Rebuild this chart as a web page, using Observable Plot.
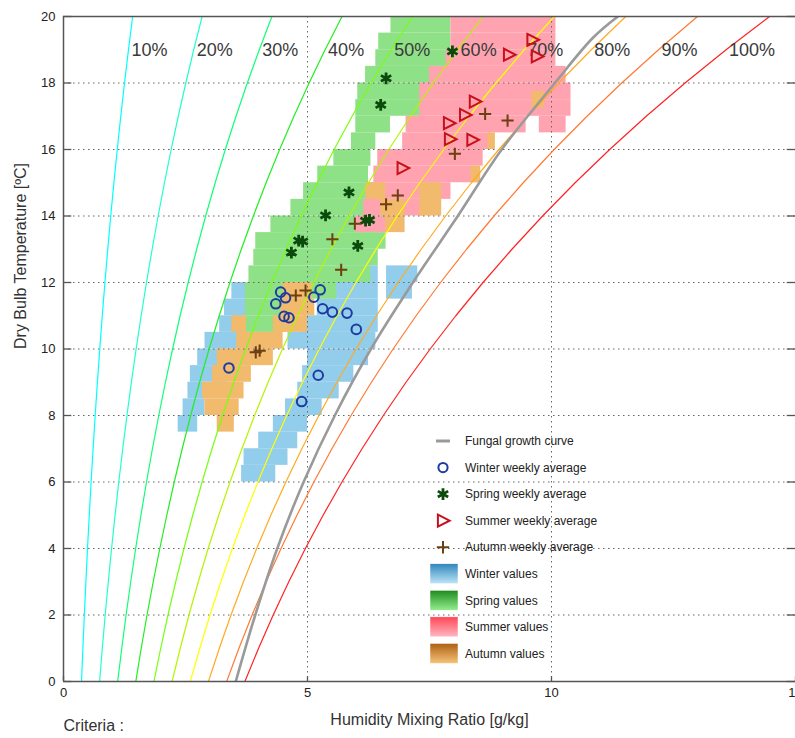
<!DOCTYPE html>
<html><head><meta charset="utf-8">
<script src="https://cdn.jsdelivr.net/npm/d3@7"></script>
<script src="https://cdn.jsdelivr.net/npm/@observablehq/plot@0.6"></script>
<style>
body{margin:0;background:#fff;overflow:hidden;font-family:"Liberation Sans",Arial,sans-serif;}
#wrap{position:relative;width:795px;height:738px;overflow:hidden;}
#wrap svg{max-width:none !important;}
#legend{position:absolute;left:0;top:0;pointer-events:none;}
</style></head><body><div id="wrap"></div>
<script>
// ---- data ----
const xTicks = [0, 5, 10, 15];
const yTicks = [0, 2, 4, 6, 8, 10, 12, 14, 16, 18, 20];
const rhLevels = [10, 20, 30, 40, 50, 60, 70, 80, 90, 100];
const rhColors = ["#00ffff", "#22ffcc", "#11ff77", "#22ee22", "#77ff11", "#b4f500", "#ffff00", "#ffaa22", "#ff7a33", "#ff2222"];
const tempsC = [0,1,2,3,4,5,6,7,8,9,10,11,12,13,14,15,16,17,18,19,20];
const satVapourKPa = [0.6113,0.6571,0.7060,0.7581,0.8135,0.8726,0.9354,1.0021,1.0730,1.1482,1.2282,1.3129,1.4028,1.4981,1.5989,1.7057,1.8188,1.9383,2.0647,2.1982,2.3392];
const pressureKPa = 102.9;
const labelTempC = 19;

const fungalCurve = [[3.53,0],[3.93,2],[4.38,4],[4.92,6],[5.56,8],[6.30,10],[7.16,12],[8.08,14],[8.98,16],[10.07,18],[10.85,19.36],[11.36,20]];

const winterAvg = [[4.45,11.71],[4.35,11.36],[4.55,11.54],[4.52,10.98],[4.62,10.94],[5.26,11.78],[5.13,11.56],[5.31,11.21],[5.51,11.11],[5.81,11.08],[6.0,10.59],[3.39,9.43],[5.22,9.21],[4.88,8.42]];
const springAvg = [[7.97,18.95],[6.61,18.14],[6.50,17.34],[5.85,14.71],[5.37,14.02],[6.19,13.86],[6.27,13.88],[6.03,13.10],[4.82,13.26],[4.90,13.23],[4.67,12.90]];
const summerAvg = [[9.61,19.30],[9.70,18.80],[9.13,18.85],[8.43,17.44],[8.23,17.04],[7.90,16.79],[7.92,16.31],[8.38,16.29],[6.95,15.44]];
const autumnAvg = [[8.64,17.07],[9.10,16.87],[8.02,15.87],[6.85,14.62],[6.61,14.35],[5.97,13.77],[5.51,13.30],[5.69,12.38],[4.76,11.61],[4.96,11.76],[3.94,9.90],[4.02,9.95]];

// value clouds: [temperature row centre, mixing ratio from, mixing ratio to]
const winterSpans = [[12.25,5.60,6.45],[12.25,6.62,7.26],[11.75,5.20,6.45],[11.75,6.62,7.15],[11.75,3.45,3.75],[11.25,5.20,6.45],[11.25,3.30,3.75],[10.75,4.90,6.45],[10.75,3.20,3.75],[10.25,4.60,6.40],[10.25,2.90,3.90],[9.75,5.00,6.25],[9.75,2.75,3.40],[9.25,4.90,5.95],[9.25,2.60,3.35],[8.75,4.80,5.65],[8.75,2.55,2.90],[8.25,4.55,5.30],[8.25,2.45,2.90],[7.75,4.30,5.00],[7.75,2.35,2.75],[7.25,4.00,4.80],[6.75,3.70,4.60],[6.25,3.65,4.35]];
const springSpans = [[19.75,6.71,7.94],[19.25,6.46,7.94],[18.75,6.40,7.90],[18.25,6.19,7.84],[17.75,6.03,7.59],[17.25,5.99,7.38],[16.75,5.99,6.70],[16.25,5.90,6.40],[15.75,5.54,6.30],[15.25,5.21,6.25],[14.75,4.92,6.25],[14.25,4.66,6.45],[13.75,4.25,6.64],[13.25,3.94,6.61],[12.75,3.90,6.45],[12.25,3.80,6.30],[11.75,3.73,5.60],[11.25,3.73,4.80],[10.75,3.73,4.55],[10.25,3.84,4.30]];
const summerSpans = [[19.75,7.94,10.09],[19.25,7.94,10.09],[18.75,7.84,10.09],[18.25,7.50,10.30],[17.75,7.30,10.40],[17.25,7.30,10.40],[16.75,7.02,9.48],[16.75,9.75,10.30],[16.25,6.95,8.76],[15.75,6.44,8.60],[15.25,6.36,8.49],[14.75,6.20,7.94],[14.25,6.15,7.40],[13.75,5.99,6.61]];
const autumnSpans = [[17.5,9.60,9.85],[16.25,8.70,8.85],[15.25,8.35,8.55],[14.75,7.30,7.75],[14.75,6.20,6.60],[14.25,7.30,7.75],[14.25,6.50,7.00],[13.75,6.60,7.00],[11.75,4.50,5.10],[11.25,4.45,5.15],[10.75,4.30,5.00],[10.75,3.45,3.75],[10.25,3.55,4.50],[9.75,3.15,4.30],[9.25,3.05,3.85],[8.75,2.85,3.70],[8.25,2.90,3.60],[7.75,3.15,3.50]];

const legendLabels = ["Fungal growth curve","Winter weekly average","Spring weekly average","Summer weekly average","Autumn weekly average","Winter values","Spring values","Summer values","Autumn values"];

// ---- derived tables ----
function mixingRatio(rh, e) { const pe = rh / 100 * e; return 622 * pe / (pressureKPa - pe); }
const rhRows = rhLevels.flatMap(rh => tempsC.map((t, i) => ({rh, t, w: mixingRatio(rh, satVapourKPa[i])})));
const labelIdx = tempsC.indexOf(labelTempC);
const rhLabelRows = rhLevels.map(rh => ({rh, t: labelTempC, w: mixingRatio(rh, satVapourKPa[labelIdx]), label: rh + "%"}));

const triRight = {draw(ctx, size) { const r = Math.sqrt(size / Math.PI); ctx.moveTo(-0.85 * r, -r); ctx.lineTo(1.1 * r, 0); ctx.lineTo(-0.85 * r, r); ctx.closePath(); }};

const span = (data, fill) => Plot.rect(data, {x1: d => d[1], x2: d => d[2], y1: d => d[0] - 0.25, y2: d => d[0] + 0.25, fill, clip: true});
const xy = {x: d => d[0], y: d => d[1]};
const font = "Liberation Sans, Arial, sans-serif";

const chart = Plot.plot({
  width: 810, height: 738,
  marginLeft: 63, marginRight: 15, marginTop: 16, marginBottom: 57,
  style: {fontFamily: font, fontSize: "13px", background: "white", maxWidth: "none"},
  x: {domain: [0, 15]},
  y: {domain: [0, 20]},
  marks: [
    span(winterSpans, "#93cdec"),
    span(springSpans, "#8ee186"),
    span(summerSpans, "#ffa3b0"),
    span(autumnSpans, "#f2ba6c"),
    Plot.gridY(yTicks.slice(1, -1), {stroke: "#666", strokeOpacity: 1, strokeDasharray: "1.5,3.5"}),
    Plot.gridX(xTicks.slice(1, -1), {stroke: "#666", strokeOpacity: 1, strokeDasharray: "1.5,3.5"}),
    ...rhLevels.map((rh, i) => Plot.line(rhRows.filter(d => d.rh === rh), {x: "w", y: "t", stroke: rhColors[i], strokeWidth: 1.2, clip: true})),
    Plot.line(fungalCurve, {...xy, stroke: "#9a9a9a", strokeWidth: 2.6, curve: "catmull-rom", clip: true}),
    Plot.text(rhLabelRows, {x: "w", y: "t", text: "label", textAnchor: "start", dx: 3, fontSize: 18, fill: "#3a3a3a"}),
    Plot.dot(winterAvg, {...xy, r: 4.8, stroke: "#1c3ca0", strokeWidth: 2, fill: "none"}),
    Plot.dot(springAvg, {...xy, symbol: "asterisk", r: 5.6, stroke: "#0b4a0b", strokeWidth: 2.8}),
    Plot.dot(summerAvg, {...xy, symbol: triRight, r: 6, stroke: "#c8101a", strokeWidth: 2, fill: "none"}),
    Plot.dot(autumnAvg, {...xy, symbol: "plus", r: 4, stroke: "#6e3f12", strokeWidth: 2}),
    Plot.ruleX([0], {stroke: "#555", strokeWidth: 1.5}),
    Plot.ruleY([0, 20], {stroke: "#555", strokeWidth: 1.5}),
    Plot.ruleY(yTicks, {x1: 0, x2: 0.17, stroke: "#555", strokeWidth: 1.3}),
    Plot.ruleY(yTicks, {x1: 14.83, x2: 15, stroke: "#555", strokeWidth: 1.3}),
    Plot.ruleX(xTicks, {y1: 0, y2: 0.15, stroke: "#555", strokeWidth: 1.3}),
    Plot.axisX(xTicks, {tickSize: 0, tickPadding: 6, fontSize: 13, fill: "#222", label: null}),
    Plot.axisY(yTicks, {tickSize: 0, tickPadding: 8, fontSize: 13, fill: "#222", label: null}),
    Plot.text(["Humidity Mixing Ratio [g/kg]"], {frameAnchor: "bottom", dy: 43, fontSize: 16, fill: "#333"}),
    Plot.text(["Criteria :"], {frameAnchor: "bottom-left", textAnchor: "start", dy: 49, fontSize: 16, fill: "#333"}),
    Plot.text(["Dry Bulb Temperature [ºC]"], {frameAnchor: "left", dx: -43, rotate: -90, fontSize: 16, fill: "#333"})
  ]
});
const wrap = document.getElementById("wrap");
wrap.appendChild(chart);

// ---- legend overlay ----
const lg = d3.select(wrap).append("svg").attr("id", "legend").attr("width", 795).attr("height", 738);
const grads = [["gW", "#2f86bd", "#bfe6f8"], ["gS", "#1d8a1d", "#95ee8f"], ["gU", "#ff4653", "#ffb8c4"], ["gA", "#ad5f12", "#f6c47a"]];
const defs = lg.append("defs");
grads.forEach(([id, a, b]) => {
  const g = defs.append("linearGradient").attr("id", id).attr("x1", 0).attr("y1", 0).attr("x2", 0).attr("y2", 1);
  g.append("stop").attr("offset", "0%").attr("stop-color", a);
  g.append("stop").attr("offset", "100%").attr("stop-color", b);
});
const ly0 = 441, ldy = 26.55, sx = 443;
legendLabels.forEach((lab, i) => {
  const y = ly0 + i * ldy;
  const g = lg.append("g");
  if (i === 0) g.append("line").attr("x1", sx - 7).attr("x2", sx + 7).attr("y1", y).attr("y2", y).attr("stroke", "#9a9a9a").attr("stroke-width", 3);
  if (i === 1) g.append("circle").attr("cx", sx).attr("cy", y).attr("r", 4.6).attr("fill", "none").attr("stroke", "#1c3ca0").attr("stroke-width", 2);
  if (i === 2) g.append("path").attr("transform", `translate(${sx},${y})`).attr("d", d3.symbol(d3.symbolAsterisk, 100)()).attr("stroke", "#0b4a0b").attr("stroke-width", 2.8);
  if (i === 3) g.append("path").attr("transform", `translate(${sx},${y})`).attr("d", d3.symbol(triRight, Math.PI * 36)()).attr("fill", "none").attr("stroke", "#c8101a").attr("stroke-width", 2);
  if (i === 4) g.append("path").attr("transform", `translate(${sx},${y})`).attr("d", d3.symbol(d3.symbolPlus, 52)()).attr("stroke", "#6e3f12").attr("stroke-width", 2);
  if (i >= 5) g.append("rect").attr("x", 430).attr("y", y - 10).attr("width", 28).attr("height", 20).attr("fill", `url(#${grads[i - 5][0]})`).attr("stroke", "#ffffff").attr("stroke-width", 0.5);
  g.append("text").attr("x", 465).attr("y", y).attr("dy", "0.35em").attr("font-size", 12).attr("font-family", font).attr("fill", "#222").text(lab);
});
</script></body></html>
